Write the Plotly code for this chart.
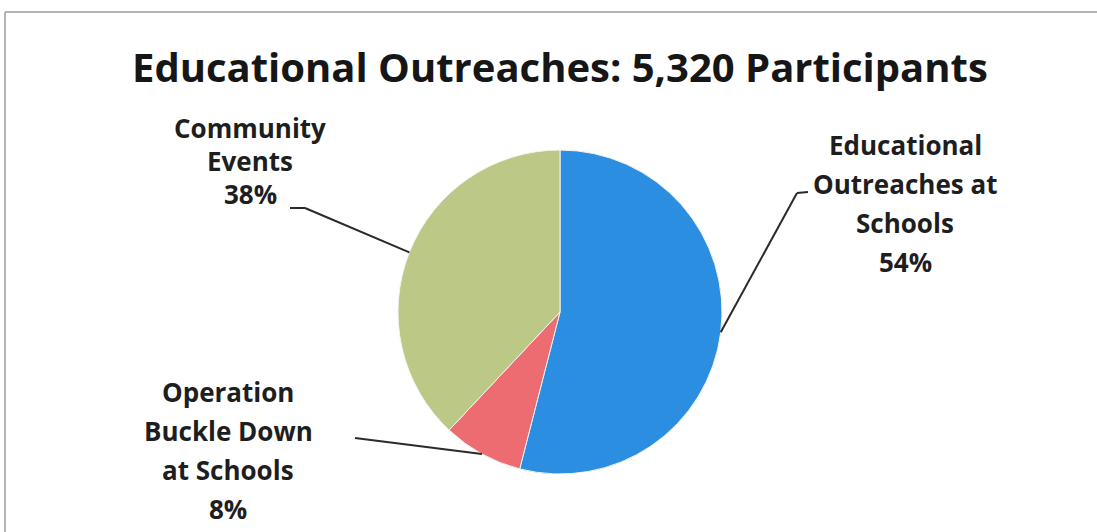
import math
import plotly.graph_objects as go

# ---- data ----
categories = ["Educational Outreaches at Schools", "Operation Buckle Down at Schools", "Community Events"]
values = [54, 8, 38]
colors = ["#2b8ee0", "#ec6c72", "#bcc886"]
title_text = "Educational Outreaches: 5,320 Participants"
label_lines = [
    ["Educational", "Outreaches at", "Schools", "54%"],
    ["Operation", "Buckle Down", "at Schools", "8%"],
    ["Community", "Events", "38%"],
]

W, H = 1097, 532
def px(x):
    return x / W
def py(y):
    return 1 - y / H

# pie geometry (pixels)
cx, cy, r = 560, 312, 162

fig = go.Figure(go.Pie(
    labels=categories,
    values=values,
    sort=False,
    direction="clockwise",
    rotation=0,
    marker=dict(colors=colors, line=dict(color="#f4f4ee", width=1)),
    textinfo="none",
    hoverinfo="label+percent",
    showlegend=False,
    domain=dict(x=[px(cx - r), px(cx + r)], y=[py(cy + r), py(cy - r)]),
))

font_family = "Open Sans, Lato, sans-serif"
annotations = [dict(
    text=title_text, x=px(560), y=py(66), xref="paper", yref="paper",
    showarrow=False, xanchor="center", yanchor="middle",
    font=dict(family=font_family, size=40, color="#161616", weight="bold"),
)]

# label text positions (centre x, first line y, line spacing)
label_pos = [(905, 145, 39), (228, 392, 39), (250, 128, 33)]
for lines, (lx, ly, dy) in zip(label_lines, label_pos):
    for i, t in enumerate(lines):
        annotations.append(dict(
            text=t, x=px(lx), y=py(ly + i * dy), xref="paper", yref="paper",
            showarrow=False, xanchor="center", yanchor="middle",
            font=dict(family=font_family, size=26, color="#1e1e1e", weight="bold"),
        ))

# leader lines: start at slice mid-angle on the pie edge
total = sum(values)
cum = 0
mids = []
for v in values:
    a = (cum + v / 2) / total * 2 * math.pi
    mids.append((cx + r * math.sin(a), cy - r * math.cos(a)))
    cum += v

bends = [[(797, 193), (808, 192)], [(355, 438)], [(305, 208), (290, 208)]]
shapes = []
for (sx, sy), pts in zip(mids, bends):
    prev = (sx, sy)
    for p in pts:
        shapes.append(dict(type="line", xref="paper", yref="paper",
                           x0=px(prev[0]), y0=py(prev[1]), x1=px(p[0]), y1=py(p[1]),
                           line=dict(color="#2a2a2a", width=2)))
        prev = p

# chart frame (top and left edges visible in the scan)
frame = dict(xref="paper", yref="paper", type="line", layer="below",
             line=dict(color="#b4b4b4", width=2))
shapes.append(dict(frame, x0=px(5), y0=py(12), x1=1.0, y1=py(12)))
shapes.append(dict(frame, x0=px(5), y0=py(12), x1=px(5), y1=0.0))

fig.update_layout(
    width=W, height=H,
    margin=dict(l=0, r=0, t=0, b=0),
    paper_bgcolor="white", plot_bgcolor="white",
    annotations=annotations, shapes=shapes,
)
fig.write_html("out.html", config={"displayModeBar": False},
               post_script="document.body.style.margin='0';document.body.style.overflow='hidden';"
                           "document.documentElement.style.overflow='hidden';")
